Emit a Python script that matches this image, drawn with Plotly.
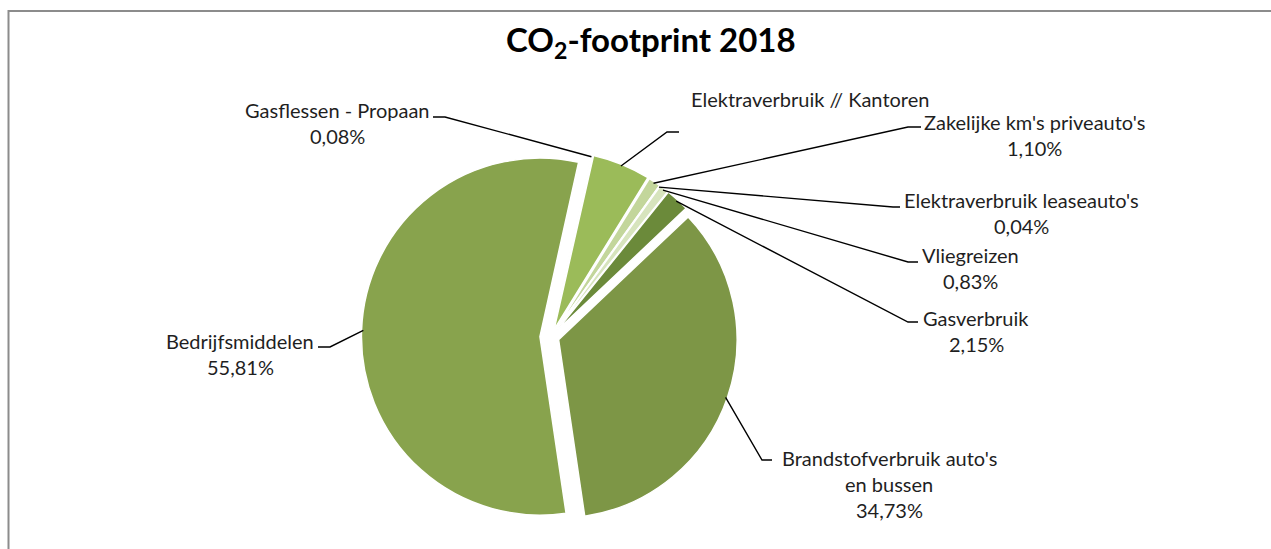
import math
import plotly.graph_objects as go

W, H = 1271, 549

# ---------------- data ----------------
categories = [
    "Gasflessen - Propaan",
    "Elektraverbruik // Kantoren",
    "Zakelijke km's priveauto's",
    "Elektraverbruik leaseauto's",
    "Vliegreizen",
    "Gasverbruik",
    "Brandstofverbruik auto's en bussen",
    "Bedrijfsmiddelen",
]
values = [0.08, 5.26, 1.10, 0.04, 0.83, 2.15, 34.73, 55.81]
show_percent = [True, False, True, True, True, True, True, True]
label_wrap = {"Brandstofverbruik auto's en bussen": ["Brandstofverbruik auto's", "en bussen"]}

# ---------------- style ----------------
colors = ["#9BBB59", "#9BBB59", "#C3D69B", "#D0DFB2", "#D7E4BD", "#6B8A3A", "#7D9646", "#88A34D"]
pulls = [0.045, 0.045, 0.045, 0.045, 0.045, 0.045, 0.045, 0.062]
rotation = 12.5
CX, CY, R = 551.0, 337.0, 178.5   # pixel centre / radius of the pie

# label placement (pixels): text centre x, first line centre y, elbow point, end of horizontal stub
label_pos = [
    (337, 110, (445, 117), (433, 117)),
    (810, 99, (667, 132), (679, 132)),
    (1034, 122, (908, 127), (921, 127)),
    (1021, 200, (893, 207), (900, 207)),
    (971, 255, (908, 262), (918, 262)),
    (976, 318, (908, 322), (918, 322)),
    (889, 458, (762, 460), (772, 460)),
    (240, 341, (330, 347), (318, 347)),
]
LINE_GAP = 26
label_font = dict(family="Lato", size=20, color="#1f1f1f")


def px(x):
    return x / W


def py(y):
    return 1 - y / H


maxpull = max(pulls)
box = 2 * R * (1 + maxpull)
domain = dict(x=[px(CX - box / 2), px(CX + box / 2)], y=[py(CY + box / 2), py(CY - box / 2)])

fig = go.Figure(go.Pie(
    labels=categories,
    values=values,
    sort=False,
    direction="clockwise",
    rotation=rotation,
    pull=pulls,
    marker=dict(colors=colors, line=dict(color="white", width=1.5)),
    textinfo="none",
    hoverinfo="label+percent",
    showlegend=False,
    domain=domain,
))

total = sum(values)
cum = 0.0
shapes = []
annotations = []
for i, (cat, v) in enumerate(zip(categories, values)):
    start = rotation + 360 * cum / total
    cum += v
    mid = math.radians(start + 180 * v / total)
    sx = CX + pulls[i] * R * math.sin(mid)
    sy = CY - pulls[i] * R * math.cos(mid)
    lx = sx + 0.99 * R * math.sin(mid)
    ly = sy - 0.99 * R * math.cos(mid)
    tx, ty, elbow, stub = label_pos[i]
    shapes.append(dict(
        type="path", xref="paper", yref="paper",
        path=f"M {px(lx)} {py(ly)} L {px(elbow[0])} {py(elbow[1])} L {px(stub[0])} {py(stub[1])}",
        line=dict(color="black", width=1.4),
    ))
    lines = list(label_wrap.get(cat, [cat]))
    if show_percent[i]:
        lines.append(f"{v:.2f}".replace(".", ",") + "%")
    for j, t in enumerate(lines):
        annotations.append(dict(
            x=px(tx), y=py(ty + j * LINE_GAP), xref="paper", yref="paper",
            text=t, showarrow=False, xanchor="center", yanchor="middle",
            font=label_font,
        ))

annotations.append(dict(
    x=px(651), y=py(42), xref="paper", yref="paper",
    text="<b>CO<sub>2</sub>-footprint 2018</b>", showarrow=False,
    xanchor="center", yanchor="middle",
    font=dict(family="Lato", size=33, color="black"),
))

shapes.append(dict(
    type="rect", xref="paper", yref="paper",
    x0=px(8.5), y0=py(11), x1=1.05, y1=-0.05,
    line=dict(color="#8C8C8C", width=2), fillcolor="rgba(0,0,0,0)", layer="below",
))

fig.update_layout(
    width=W, height=H,
    margin=dict(l=0, r=0, t=0, b=0),
    paper_bgcolor="white", plot_bgcolor="white",
    shapes=shapes, annotations=annotations,
)

fig.write_html(
    "out.html",
    config={"displayModeBar": False},
    post_script="document.body.style.margin='0';document.body.style.overflow='hidden';",
)
